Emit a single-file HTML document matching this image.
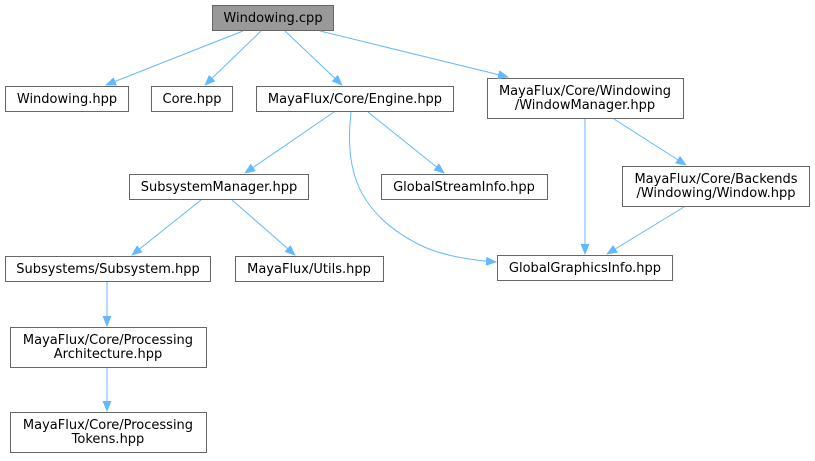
<!DOCTYPE html>
<html><head><meta charset="utf-8"><style>body{margin:0;background:#fff}svg{display:block}text{font-family:"DejaVu Sans",sans-serif;font-size:13px;fill:#000;text-anchor:middle}</style></head><body>
<svg width="815" height="461" xmlns="http://www.w3.org/2000/svg">
<defs><marker id="a" markerWidth="11" markerHeight="9" refX="10" refY="4.5" orient="auto" markerUnits="userSpaceOnUse"><path d="M0,0 L11,4.5 L0,9 z" fill="#63b8ff"/></marker></defs>
<g fill="#fff" stroke="#666" stroke-width="1">
<rect x="212.5" y="5.5" width="121" height="25" fill="#999"/>
<rect x="5.5" y="86.5" width="123" height="25"/>
<rect x="151.5" y="86.5" width="81" height="25"/>
<rect x="256.5" y="86.5" width="197" height="25"/>
<rect x="487.5" y="78.5" width="196" height="40"/>
<rect x="129.5" y="174.5" width="179" height="25"/>
<rect x="381.5" y="174.5" width="166" height="25"/>
<rect x="622.5" y="166.5" width="187" height="40"/>
<rect x="5.5" y="256.5" width="205" height="25"/>
<rect x="235.5" y="256.5" width="148" height="25"/>
<rect x="497.5" y="255.5" width="175" height="25"/>
<rect x="10.5" y="327.5" width="196" height="40"/>
<rect x="10.5" y="412.5" width="196" height="40"/>
</g>
<g stroke="#63b8ff" fill="none" stroke-width="1" marker-end="url(#a)">
<path d="M243,31 L106,85"/>
<path d="M261,31 L205,85"/>
<path d="M285,31 L342,85"/>
<path d="M320,31 L508,77"/>
<path d="M334,112 L245,173"/>
<path d="M368,112 L444,173"/>
<path d="M351,112 C346,160 350,210 420,245 C440,255 470,260 496,262"/>
<path d="M585,119 L585,254"/>
<path d="M614,119 L686,165"/>
<path d="M684,207 L607,254"/>
<path d="M201,200 L132,255"/>
<path d="M232,200 L295,255"/>
<path d="M107,282 L107,326"/>
<path d="M107,368 L107,411"/>
</g>
<text x="273" y="22">Windowing.cpp</text>
<text x="67" y="103">Windowing.hpp</text>
<text x="192" y="103">Core.hpp</text>
<text x="355" y="103">MayaFlux/Core/Engine.hpp</text>
<text x="585" y="95">MayaFlux/Core/Windowing</text>
<text x="585" y="109">/WindowManager.hpp</text>
<text x="219" y="191">SubsystemManager.hpp</text>
<text x="464" y="191">GlobalStreamInfo.hpp</text>
<text x="716" y="183">MayaFlux/Core/Backends</text>
<text x="716" y="197">/Windowing/Window.hpp</text>
<text x="108" y="273">Subsystems/Subsystem.hpp</text>
<text x="309" y="273">MayaFlux/Utils.hpp</text>
<text x="585" y="272">GlobalGraphicsInfo.hpp</text>
<text x="108" y="344">MayaFlux/Core/Processing</text>
<text x="108" y="358">Architecture.hpp</text>
<text x="108" y="429">MayaFlux/Core/Processing</text>
<text x="108" y="443">Tokens.hpp</text>
</svg>
</body></html>
